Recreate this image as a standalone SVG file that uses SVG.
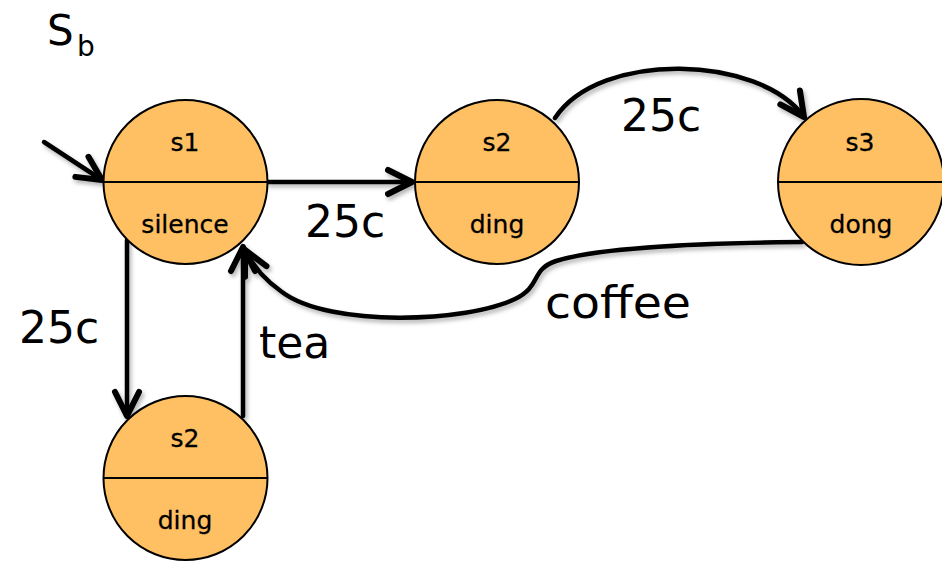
<svg xmlns="http://www.w3.org/2000/svg" width="942" height="563" viewBox="0 0 942 563">
<style>
.st circle{fill:#FEC062;stroke:#000;stroke-width:2}
.st line{stroke:#000;stroke-width:2}
.st text{font-family:"DejaVu Sans",sans-serif;font-size:25px;fill:#000;text-anchor:middle;stroke:#000;stroke-width:0.3}
.edge{fill:none;stroke:#000;stroke-width:4.5;stroke-linecap:round;stroke-linejoin:round}
.lbl{font-family:"DejaVu Sans",sans-serif;font-size:44px;fill:#000}
</style>
<defs>
<filter id="sh" x="-20%" y="-20%" width="140%" height="140%">
<feDropShadow dx="2" dy="3" stdDeviation="2" flood-color="#000" flood-opacity="0.3"/>
</filter>
<marker id="ah" markerUnits="userSpaceOnUse" markerWidth="40" markerHeight="40" viewBox="-25 -15 30 30" refX="0" refY="0" orient="auto" overflow="visible">
<path d="M -18 -9 L 0 0 L -18 9" fill="none" stroke="#000" stroke-width="4.5" stroke-linecap="round" stroke-linejoin="round"/>
</marker>
</defs>
<rect width="942" height="563" fill="#fff"/>
<text x="47" y="45" font-family="DejaVu Sans, sans-serif" font-size="42" fill="#000">S</text>
<text x="77" y="56" font-family="DejaVu Sans, sans-serif" font-size="28" fill="#000">b</text>
<g id="connectors" filter="url(#sh)">
<line class="edge" x1="44" y1="142" x2="102" y2="180" marker-end="url(#ah)"/>
<line class="edge" x1="268" y1="182" x2="412" y2="182" marker-end="url(#ah)"/>
<path class="edge" d="M 555 118 C 600 50, 760 55, 804 117" marker-end="url(#ah)"/>
<path class="edge" d="M 802 242 C 700 243, 600 247, 556 261 C 530 270, 542 286, 515 299 C 468 322, 330 328, 282 292 C 266 281, 253 266, 245 250" marker-end="url(#ah)"/>
<line class="edge" x1="127" y1="240" x2="127" y2="416" marker-end="url(#ah)"/>
<line class="edge" x1="243" y1="416" x2="243" y2="247" marker-end="url(#ah)"/>
</g>
<g id="s1" class="st">
<circle cx="185.5" cy="182" r="82"/>
<line x1="103.5" y1="182" x2="267.5" y2="182"/>
<text x="185" y="151">s1</text>
<text x="185" y="233">silence</text>
</g>
<g id="s2" class="st">
<circle cx="497" cy="182" r="82"/>
<line x1="415" y1="182" x2="579" y2="182"/>
<text x="497" y="151">s2</text>
<text x="497" y="233">ding</text>
</g>
<g id="s3" class="st">
<circle cx="861" cy="182" r="83"/>
<line x1="778" y1="182" x2="944" y2="182"/>
<text x="860" y="151">s3</text>
<text x="861" y="233">dong</text>
</g>
<g id="s2b" class="st">
<circle cx="185.5" cy="478" r="82"/>
<line x1="103.5" y1="478" x2="267.5" y2="478"/>
<text x="185" y="447">s2</text>
<text x="185" y="529">ding</text>
</g>
<g id="labels">
<text class="lbl" x="621" y="131">25c</text>
<text class="lbl" x="305" y="237">25c</text>
<text class="lbl" x="19" y="343">25c</text>
<text class="lbl" x="259" y="358">tea</text>
<text class="lbl" x="545" y="318" textLength="146" lengthAdjust="spacingAndGlyphs">coffee</text>
</g>
</svg>
